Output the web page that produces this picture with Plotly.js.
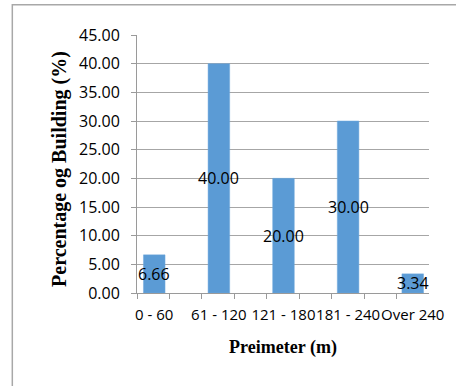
<!DOCTYPE html>
<html>
<head>
<meta charset="utf-8">
<script src="https://cdn.plot.ly/plotly-3.0.1.min.js"></script>
<style>html,body{margin:0;padding:0;background:#fff;}#chart{width:456px;height:386px;}</style>
</head>
<body>
<div id="chart"></div>
<script>
const categories = ["0 - 60", "61 - 120", "121 - 180", "181 - 240", "Over 240"];
const percentages = [6.66, 40.00, 20.00, 30.00, 3.34];
const yTickValues = [0, 5, 10, 15, 20, 25, 30, 35, 40, 45];
const xTitle = 'Preimeter (m)';
const yTitle = 'Percentage og Building (%)';

const xIdx = categories.map((c, i) => i);

const trace = {
  type: 'bar',
  x: xIdx,
  y: percentages,
  width: 0.334,
  marker: {color: '#5b9bd5', line: {color: '#6fa8dc', width: 0.5}},
  hoverinfo: 'none'
};

const labels = percentages.map((v, i) => ({
  x: i, y: v / 2, xref: 'x', yref: 'y',
  text: v.toFixed(2), showarrow: false,
  font: {family: 'Open Sans', size: 16, color: '#000'}
}));

labels.push({
  x: -0.268, y: 0.48, xref: 'paper', yref: 'paper',
  xanchor: 'center', yanchor: 'middle',
  text: yTitle, textangle: -90, showarrow: false,
  font: {family: 'Liberation Serif', size: 20, color: '#000', weight: 'bold'}
});

const layout = {
  width: 456, height: 386,
  margin: {l: 137, r: 27, t: 35, b: 93},
  paper_bgcolor: '#fff', plot_bgcolor: '#fff',
  showlegend: false,
  xaxis: {
    range: [-0.267, 4.252],
    tickmode: 'array', tickvals: xIdx, ticktext: categories,
    tickangle: 0,
    ticks: '', showgrid: false, zeroline: false,
    showline: true, linecolor: '#9a9a9a', linewidth: 1,
    tickfont: {family: 'Open Sans', size: 15, color: '#000'},
    ticklabelstandoff: 8,
    minor: {ticks: 'outside', ticklen: 5, tickcolor: '#9a9a9a', tickwidth: 1, tick0: -0.267, dtick: 0.5025, showgrid: false},
    title: {text: xTitle, font: {family: 'Liberation Serif', size: 18, color: '#000', weight: 'bold'}, standoff: 17}
  },
  yaxis: {
    range: [0, 45],
    tickmode: 'array', tickvals: yTickValues,
    tickformat: '.2f',
    ticks: 'outside', ticklen: 5, tickcolor: '#9a9a9a', tickwidth: 1,
    showgrid: true, gridcolor: '#a6a6a6', gridwidth: 1,
    zeroline: false,
    showline: true, linecolor: '#9a9a9a', linewidth: 1,
    tickfont: {family: 'Open Sans', size: 16, color: '#000'},
    ticklabelstandoff: 8
  },
  annotations: labels,
  shapes: [{
    type: 'rect', xref: 'paper', yref: 'paper', layer: 'above',
    x0: -0.427, x1: 2, y0: -2, y1: 1.1176,
    line: {color: '#a8a8a8', width: 1.5}
  }]
};

Plotly.newPlot('chart', [trace], layout, {staticPlot: true, displayModeBar: false});
</script>
</body>
</html>
